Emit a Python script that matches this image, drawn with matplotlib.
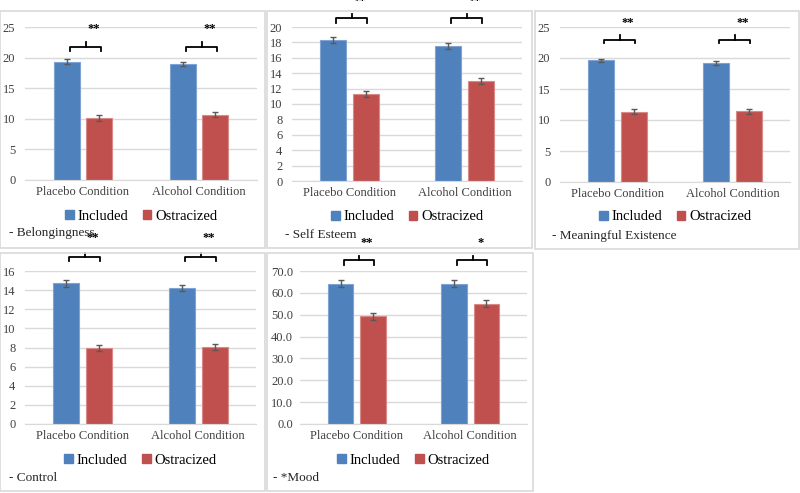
import matplotlib.pyplot as plt
from matplotlib.patches import Rectangle, Patch

plt.rcParams["font.family"] = ["Liberation Serif", "DejaVu Serif"]

# data
conditions = ["Placebo Condition", "Alcohol Condition"]
groups = ["Included", "Ostracized"]

belong_inc = [19.3, 18.9]
belong_ost = [10.1, 10.7]
belong_inc_err = [0.4, 0.35]
belong_ost_err = [0.45, 0.4]
belong_stars = ["**", "**"]

esteem_inc = [18.3, 17.5]
esteem_ost = [11.3, 13.0]
esteem_inc_err = [0.4, 0.4]
esteem_ost_err = [0.45, 0.4]
esteem_stars = ["**", "**"]

meaning_inc = [19.6, 19.2]
meaning_ost = [11.3, 11.4]
meaning_inc_err = [0.3, 0.3]
meaning_ost_err = [0.4, 0.4]
meaning_stars = ["**", "**"]

control_inc = [14.7, 14.2]
control_ost = [7.95, 8.05]
control_inc_err = [0.35, 0.3]
control_ost_err = [0.3, 0.3]
control_stars = ["**", "**"]

mood_inc = [64.2, 64.2]
mood_ost = [49.3, 55.1]
mood_inc_err = [1.6, 1.6]
mood_ost_err = [1.6, 1.6]
mood_stars = ["**", "*"]

BLUE = "#4F81BD"
RED = "#C0504D"
GRID = "#D9D9D9"
W, H = 800, 493

fig = plt.figure(figsize=(8, 4.93), dpi=100)


def fx(x):
    return x / W


def fy(y):
    return 1 - y / H


def panel(box, plot, ymax, ystep, fmt, inc, ost, inc_err, ost_err, stars,
          brk, star_y, legend_y, title, title_xy, ypad=7):
    # light grey frame around each chart
    bx0, by0, bx1, by1 = box
    fig.patches.append(Rectangle((fx(bx0), fy(by1)), (bx1 - bx0) / W,
                                 (by1 - by0) / H, transform=fig.transFigure,
                                 fill=False, edgecolor=GRID, lw=1.2, zorder=0))
    px0, ptop, px1, pbot = plot
    ax = fig.add_axes([fx(px0), fy(pbot), (px1 - px0) / W, (pbot - ptop) / H])
    ax.set_facecolor("none")
    x = range(len(conditions))
    off, bw = 0.142, 0.224
    ax.bar([i - off for i in x], inc, bw, color=BLUE, edgecolor="#7FA3D3",
           lw=0.8, yerr=inc_err, error_kw=dict(ecolor="#595959", capsize=2.5,
                                               elinewidth=1, capthick=1))
    ax.bar([i + off for i in x], ost, bw, color=RED, edgecolor="#D88A88",
           lw=0.8, yerr=ost_err, error_kw=dict(ecolor="#595959", capsize=2.5,
                                               elinewidth=1, capthick=1))
    ax.set_xlim(-0.5, len(conditions) - 0.5)
    ax.set_ylim(0, ymax)
    ticks = [ystep * k for k in range(int(round(ymax / ystep)) + 1)]
    ax.set_yticks(ticks)
    ax.set_yticklabels([fmt.format(t) for t in ticks])
    ax.set_xticks(list(x))
    ax.set_xticklabels(conditions)
    ax.yaxis.grid(True, color=GRID, lw=1)
    ax.set_axisbelow(True)
    for s in ["top", "right", "left"]:
        ax.spines[s].set_visible(False)
    ax.spines["bottom"].set_color(GRID)
    ax.tick_params(axis="both", length=0, labelsize=9, colors="#404040")
    ax.tick_params(axis="y", pad=ypad)
    ax.tick_params(axis="x", pad=4)

    # significance brackets
    yend, yh, ytick = brk
    for i, st in zip(x, stars):
        ax.plot([i - 0.116, i - 0.116, i + 0.151, i + 0.151],
                [yend, yh, yh, yend], color="black", lw=1.3, clip_on=False)
        ax.plot([i + 0.022, i + 0.022], [yh, ytick], color="black", lw=1.3,
                clip_on=False)
        ax.text(i + 0.09, star_y, st, ha="center", va="center", fontsize=9,
                fontweight="bold", clip_on=False)

    handles = [Patch(color=BLUE), Patch(color=RED)]
    fig.legend(handles, groups, loc="center", ncol=2, frameon=False,
               bbox_to_anchor=(fx((px0 + px1) / 2), fy(legend_y)),
               fontsize=10.5, handlelength=0.6, handleheight=0.6,
               handletextpad=0.25, columnspacing=1.0, borderpad=0)
    fig.text(fx(title_xy[0]), fy(title_xy[1]), title, fontsize=9.5,
             ha="left", va="center", color="#262626")
    return ax


panel((0, 11, 265, 248), (25, 27, 257, 180), 25, 5, "{:g}",
      belong_inc, belong_ost, belong_inc_err, belong_ost_err, belong_stars,
      (21.0, 21.8, 22.5), 24.7, 216, "- Belongingness", (9, 233))

panel((267, 11, 532, 248), (292, 27, 522, 181), 20, 2, "{:g}",
      esteem_inc, esteem_ost, esteem_inc_err, esteem_ost_err, esteem_stars,
      (20.5, 21.2, 21.7), 23.4, 217, "- Self Esteem", (285, 235))

panel((535, 11, 799, 249), (560, 27, 790, 182), 25, 5, "{:g}",
      meaning_inc, meaning_ost, meaning_inc_err, meaning_ost_err, meaning_stars,
      (22.4, 22.9, 23.7), 25.7, 217, "- Meaningful Existence", (552, 236))

panel((0, 253, 265, 491), (25, 271, 256, 424), 16, 2, "{:g}",
      control_inc, control_ost, control_inc_err, control_ost_err, control_stars,
      (17.0, 17.5, 17.9), 19.4, 460, "- Control", (9, 478))

panel((267, 253, 533, 491), (300, 271, 527, 424), 70, 10, "{:.1f}",
      mood_inc, mood_ost, mood_inc_err, mood_ost_err, mood_stars,
      (72.6, 75.2, 76.7), 82.7, 460, "- *Mood", (273, 478), ypad=5)

fig.savefig("out.png", dpi=100, facecolor="white")
